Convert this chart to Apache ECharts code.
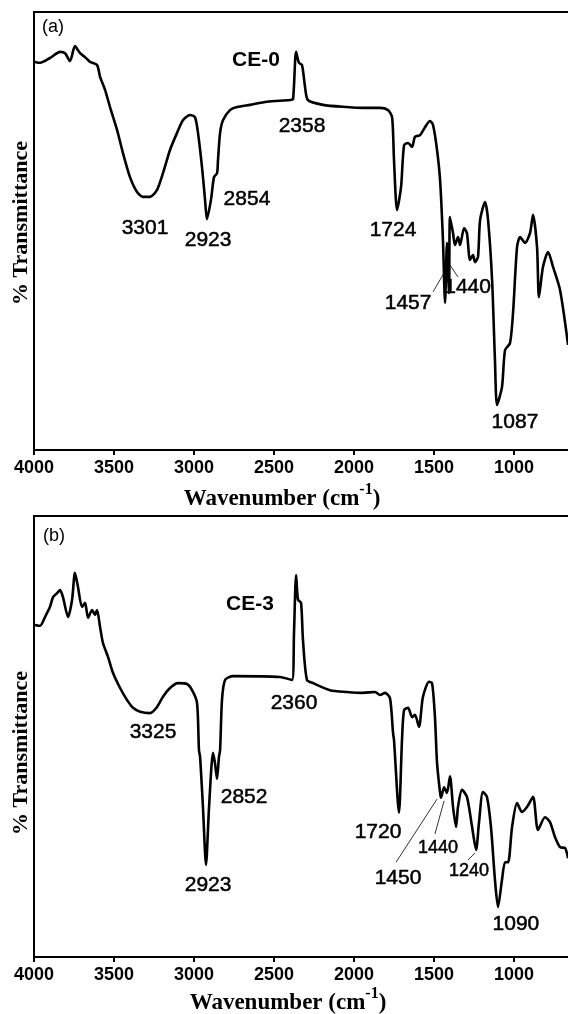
<!DOCTYPE html>
<html>
<head>
<meta charset="utf-8">
<script src="https://cdn.jsdelivr.net/npm/echarts@6/dist/echarts.min.js"></script>
<style>
html, body { margin: 0; padding: 0; background: #fff; }
#chart { width: 568px; height: 1014px; }
</style>
</head>
<body>
<div id="chart"></div>
<script>
// FTIR spectra of CE-0 (a) and CE-3 (b)
var xTicks = [4000, 3500, 3000, 2500, 2000, 1500, 1000, 500];

var waveA = [3994,3962,3900,3837,3806,3775,3744,3712,3681,3650,
    3606,3587,3556,3525,3481,3444,3400,3356,3319,3275,
    3231,3194,3150,3106,3069,3025,2994,2975,2950,2931,
    2919,2894,2875,2856,2850,2837,2819,2775,2731,2650,
    2544,2400,2381,2362,2344,2325,2306,2288,2194,2044,
    1944,1837,1787,1762,1750,1731,1706,1687,1662,1637,
    1619,1587,1556,1525,1506,1481,1462,1444,1431,1419,
    1406,1400,1381,1369,1350,1337,1312,1294,1275,1256,
    1244,1225,1212,1181,1162,1137,1119,1106,1075,1056,
    1025,1006,981,962,931,900,881,856,844,819,
    787,756,712,662];
var transA = [88.6,88.4,89.5,90.9,90.6,88.8,92.2,90.6,89.7,88.6,
    87.9,85.2,82.2,78.3,73.1,67.8,62.3,58.9,57.8,57.8,
    59.4,63.2,68.5,72.4,75.3,76.5,76.0,72.4,64.6,57.1,
    52.7,57.1,62.3,63.2,66.2,72.4,75.3,77.6,78.3,78.8,
    79.5,79.9,80.1,90.9,88.4,87.9,82.9,79.9,78.8,78.3,
    78.1,78.1,77.6,76.0,66.2,54.8,60.0,69.6,70.1,69.2,
    71.5,71.9,73.7,75.1,74.2,68.5,61.6,47.9,33.6,47.3,
    35.8,53.2,49.5,46.8,48.6,46.8,50.7,49.5,43.4,44.5,
    42.9,44.1,52.5,56.6,52.5,38.8,20.5,10.3,14.4,22.8,
    24.4,31.3,46.3,48.6,47.3,49.5,53.7,46.3,34.9,41.8,
    45.2,41.8,36.5,24.0];

var waveB = [3994,3962,3931,3900,3881,3856,3837,3819,3787,3762,
    3744,3725,3700,3681,3662,3637,3619,3606,3587,3569,
    3537,3506,3462,3419,3381,3337,3275,3231,3194,3150,
    3100,3044,3012,2981,2969,2962,2944,2925,2906,2881,
    2869,2856,2844,2837,2825,2806,2756,2462,2387,2375,
    2362,2350,2331,2319,2294,2256,2150,2044,1944,1869,
    1837,1806,1775,1756,1750,1719,1700,1687,1662,1637,
    1619,1594,1569,1531,1512,1494,1481,1462,1456,1437,
    1419,1400,1381,1362,1350,1325,1294,1262,1237,1219,
    1194,1169,1144,1119,1100,1075,1056,1037,1012,981,
    950,919,881,850,806,775,744,712,681,662];
var transB = [75.3,75.1,77.1,79.4,81.6,82.5,83.2,81.6,77.1,81.0,
    87.1,83.9,79.4,80.3,76.9,78.7,77.6,78.7,74.8,71.2,
    68.0,64.4,61.0,58.3,56.5,55.6,55.3,56.7,59.0,61.0,
    62.1,61.9,60.5,57.6,46.9,45.4,34.0,20.9,34.0,46.3,
    44.0,40.4,45.4,46.9,58.3,62.8,63.7,63.5,62.8,73.5,
    86.6,81.0,80.3,71.9,62.8,62.1,60.5,60.1,59.9,60.1,
    59.4,59.9,58.7,50.8,49.2,32.7,49.2,56.0,56.5,54.4,
    54.9,52.2,59.0,62.4,62.1,54.4,44.0,37.2,36.1,38.5,
    37.2,41.0,34.0,29.5,34.0,37.9,36.3,29.5,24.3,30.4,
    37.4,36.3,29.5,17.5,11.3,17.5,21.5,21.5,29.5,34.9,
    32.9,34.0,36.3,28.8,31.7,30.6,27.2,24.9,24.7,22.4];

// peak labels: text, wavenumber and transmittance of the label centre
var peaksA = [['3301',3306,50.7],['2923',2912,47.9],['2854',2669,57.3],['2358',2325,74.0],
    ['1724',1756,50.2],['1457',1662,33.6],['1440',1290,37.1],['1087',994,6.4]];
var peaksB = [['3325',3256,51.0],['2923',2912,16.3],['2852',2687,36.3],['2360',2375,57.6],
    ['1720',1850,28.3],['1450',1725,17.9],['1440',1475,24.7],['1240',1281,19.5],['1090',988,7.5]];
var smallB = ['1440','1240'];

// leader lines from label to peak
var leadersA = [[[1506,36.1],[1444,40.0]], [[1350,39.5],[1400,42.2]]];
var leadersB = [[[1737,21.5],[1481,35.8]], [[1494,27.9],[1437,35.4]], [[1287,22.0],[1244,23.6]]];

var SANS = 'Arial, "Liberation Sans", sans-serif';
var SERIF = '"Times New Roman", "Liberation Serif", serif';

function pairs(w, t) {
    var out = [];
    for (var i = 0; i < w.length; i++) {
        out.push([w[i], t[i]]);
    }
    return out;
}

function xAxis(idx) {
    return {
        gridIndex: idx, type: 'value', inverse: true,
        min: Math.min.apply(null, xTicks), max: Math.max.apply(null, xTicks),
        interval: xTicks[0] - xTicks[1],
        axisLine: {show: true, onZero: false, lineStyle: {color: '#000', width: 2}},
        axisTick: {show: true, length: 5, lineStyle: {color: '#000', width: 2}},
        axisLabel: {
            color: '#000', fontSize: 18, fontWeight: 'bold', fontFamily: SANS, margin: 9,
            formatter: function (v) { return String(v); }
        },
        splitLine: {show: false}
    };
}

function yAxis(idx) {
    return {
        gridIndex: idx, type: 'value', min: 0, max: 100,
        axisLine: {show: false}, axisTick: {show: false},
        axisLabel: {show: false}, splitLine: {show: false}
    };
}

function spectrum(idx, w, t) {
    return {
        type: 'line', xAxisIndex: idx, yAxisIndex: idx,
        data: pairs(w, t), symbol: 'none', silent: true,
        smooth: 0.25,
        lineStyle: {color: '#000', width: 2.6, join: 'round'}
    };
}

function text(x, y, str, size, weight, family, rot) {
    return {
        type: 'text', x: x, y: y, rotation: rot || 0, silent: true,
        style: {
            text: str, fill: '#000', fontSize: size, fontWeight: weight, fontFamily: family,
            align: 'center', verticalAlign: 'middle', textAlign: 'center', textVerticalAlign: 'middle'
        }
    };
}

function xTitle(x, y) {
    return {
        type: 'text', x: x, y: y, silent: true,
        style: {
            text: '{m|Wavenumber (cm}{s|-1}{m|)}',
            align: 'center', verticalAlign: 'middle', textAlign: 'center', textVerticalAlign: 'middle',
            rich: {
                m: {fontSize: 23, fontWeight: 'bold', fontFamily: SERIF, fill: '#000', color: '#000'},
                s: {fontSize: 16, fontWeight: 'bold', fontFamily: SERIF, fill: '#000', color: '#000', padding: [0, 0, 18, 0]}
            }
        }
    };
}

var chart = echarts.init(document.getElementById('chart'));
var option = {
    animation: false,
    backgroundColor: '#fff',
    grid: [
        {left: 34, top: 12, width: 560, height: 438, outerBoundsMode: 'none', containLabel: false,
            show: true, borderColor: '#000', borderWidth: 2},
        {left: 34, top: 516, width: 560, height: 441, outerBoundsMode: 'none', containLabel: false,
            show: true, borderColor: '#000', borderWidth: 2}
    ],
    xAxis: [xAxis(0), xAxis(1)],
    yAxis: [yAxis(0), yAxis(1)],
    series: [
        spectrum(0, waveA, transA),
        spectrum(1, waveB, transB)
    ]
};
chart.setOption(option);

// peak labels and leader lines, placed through each grid's scales
var graphics = [
    text(53, 27, '(a)', 18, 'normal', SANS),
    text(256, 60, 'CE-0', 21, 'bold', SANS),
    text(54, 536, '(b)', 18, 'normal', SANS),
    text(250, 604, 'CE-3', 21, 'bold', SANS),
    text(21, 223, '% Transmittance', 22, 'bold', SERIF, Math.PI / 2),
    text(21, 753, '% Transmittance', 22, 'bold', SERIF, Math.PI / 2),
    xTitle(282, 499),
    xTitle(288, 1003)
];

function addPeaks(gridIndex, peaks, small, leaders) {
    for (var i = 0; i < peaks.length; i++) {
        var p = peaks[i];
        var pt = chart.convertToPixel({gridIndex: gridIndex}, [p[1], p[2]]);
        var el = text(pt[0], pt[1], p[0], small.indexOf(p[0]) >= 0 ? 18 : 21, 'normal', SANS);
        el.style.stroke = '#000';
        el.style.lineWidth = 0.5;
        graphics.push(el);
    }
    for (var j = 0; j < leaders.length; j++) {
        var a = chart.convertToPixel({gridIndex: gridIndex}, leaders[j][0]);
        var b = chart.convertToPixel({gridIndex: gridIndex}, leaders[j][1]);
        graphics.push({
            type: 'line', silent: true,
            shape: {x1: a[0], y1: a[1], x2: b[0], y2: b[1]},
            style: {stroke: '#333', lineWidth: 1}
        });
    }
}
addPeaks(0, peaksA, [], leadersA);
addPeaks(1, peaksB, smallB, leadersB);

chart.setOption({graphic: graphics});
</script>
</body>
</html>
